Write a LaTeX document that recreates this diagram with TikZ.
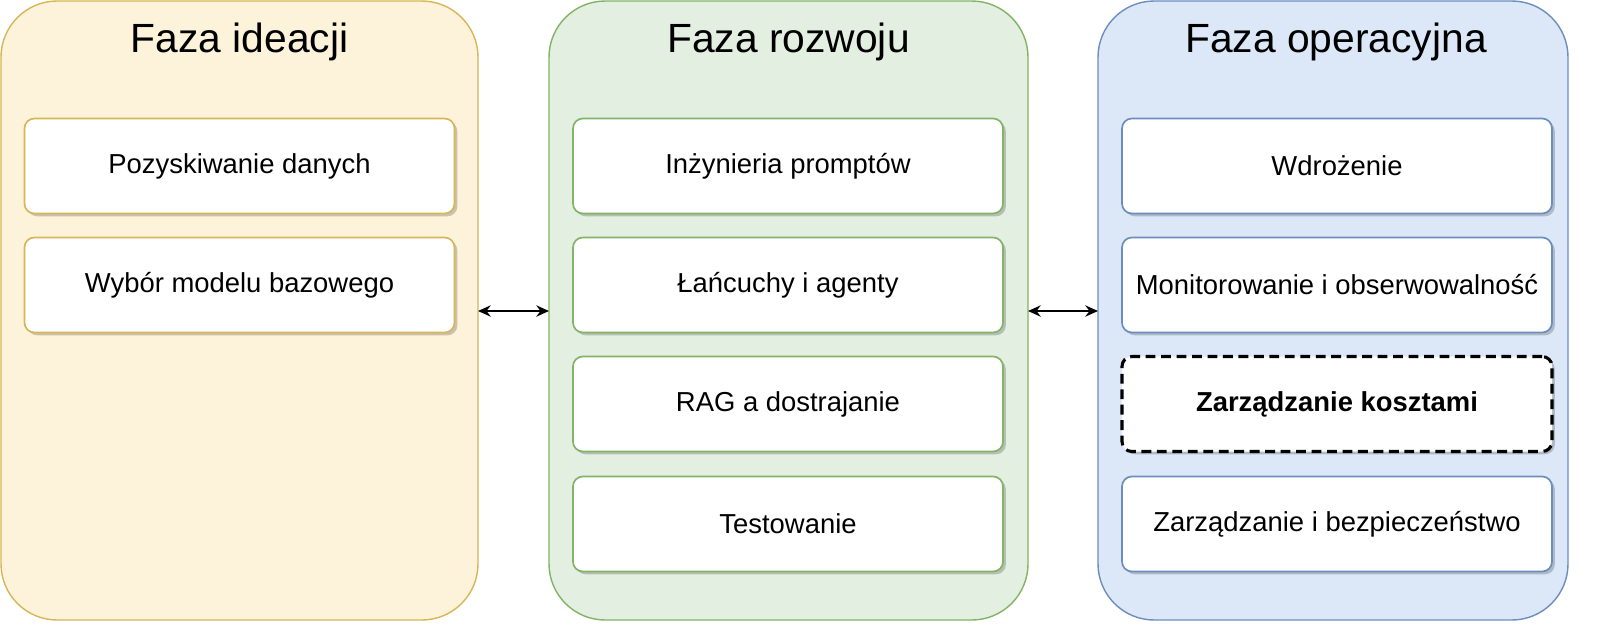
\documentclass[tikz,border=0pt]{standalone}
\usepackage{fontspec}
\setmainfont{Liberation Sans}
\usetikzlibrary{arrows.meta}

\definecolor{yelFill}{HTML}{FDF3DA}
\definecolor{yelLine}{HTML}{D6B656}
\definecolor{grnFill}{HTML}{E3EFE0}
\definecolor{grnLine}{HTML}{82B366}
\definecolor{bluFill}{HTML}{DCE8F8}
\definecolor{bluLine}{HTML}{6C8EBF}

\tikzset{
    panel/.style={draw=#1Line, fill=#1Fill, rounded corners=40pt, line width=1pt},
    title/.style={font=\fontsize{29}{34}\selectfont},
    step/.style={draw=#1, fill=white, rounded corners=7pt, line width=1.2pt,
        minimum width=430*0.025cm, minimum height=95*0.025cm,
        font=\fontsize{19.5}{23}\selectfont,
        preaction={fill=black, fill opacity=0.2, transform canvas={xshift=2pt, yshift=-2pt}}},
    link/.style={{Stealth[length=9pt,width=8pt]}-{Stealth[length=9pt,width=8pt]}, line width=1.6pt},
}

\begin{document}
\begin{tikzpicture}[x=0.025cm, y=-0.025cm]

    % Bounding box
    \useasboundingbox (0,0) rectangle (1621,640);

    % Panels
    \draw[panel=yel] (1,1) rectangle (478,620);
    \draw[panel=grn] (549,1) rectangle (1028,620);
    \draw[panel=blu] (1098,1) rectangle (1568,620);

    % Titles
    \node[title] (t1) at (239.5,42) {Faza ideacji};
    \node[title] (t2) at (788.5,42) {Faza rozwoju};
    \node[title] (t3) at (1336,42) {Faza operacyjna};

    % Ideation steps
    \node[step=yelLine] (i1) at (239.5,166) {Pozyskiwanie danych};
    \node[step=yelLine] (i2) at (239.5,285) {Wybór modelu bazowego};

    % Development steps
    \node[step=grnLine] (d1) at (788,166) {Inżynieria promptów};
    \node[step=grnLine] (d2) at (788,285) {Łańcuchy i agenty};
    \node[step=grnLine] (d3) at (788,404) {RAG a dostrajanie};
    \node[step=grnLine] (d4) at (788,524) {Testowanie};

    % Operational steps
    \node[step=bluLine] (o1) at (1337,166) {Wdrożenie};
    \node[step=bluLine] (o2) at (1337,285) {Monitorowanie i obserwowalność};
    \node[step=black, dashed, line width=2.2pt, dash pattern=on 7pt off 4pt] (o3) at (1337,404) {\bfseries Zarządzanie kosztami};
    \node[step=bluLine] (o4) at (1337,524) {Zarządzanie i bezpieczeństwo};

    % Links between phases
    \coordinate (a1) at (478,311);
    \coordinate (a2) at (549,311);
    \coordinate (b1) at (1028,311);
    \coordinate (b2) at (1098,311);
    \draw[link] (a1) -- (a2);
    \draw[link] (b1) -- (b2);

\end{tikzpicture}
\end{document}
